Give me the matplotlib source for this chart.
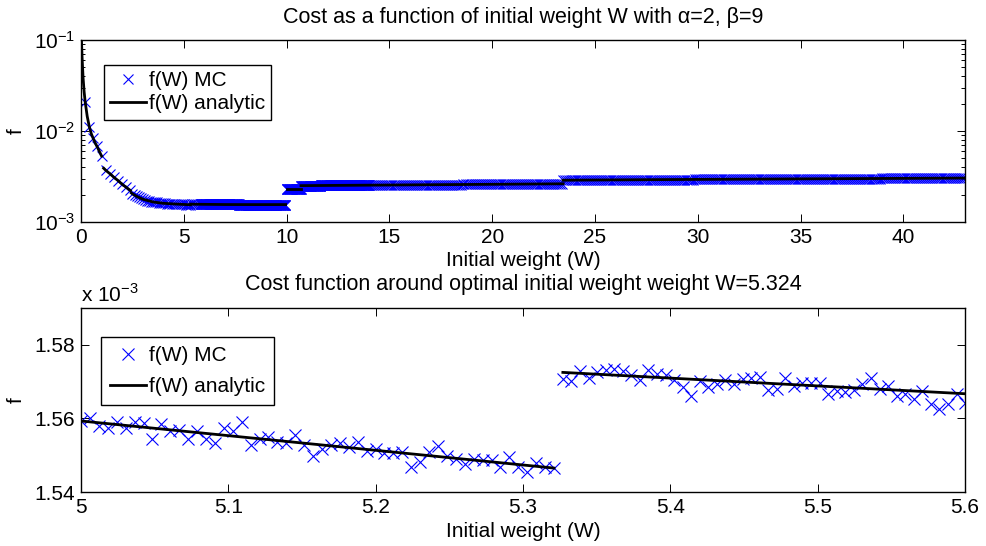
import numpy as np
import matplotlib
matplotlib.use('Agg')
import matplotlib.pyplot as plt
from matplotlib.ticker import LogLocator

plt.rcParams['font.family'] = ['Liberation Sans', 'DejaVu Sans']
plt.rcParams['mathtext.fontset'] = 'custom'
plt.rcParams['mathtext.rm'] = 'Liberation Sans'

# ---- top panel, f(W) over the full range ----
# analytic curve, one list per continuous piece
ana_w = [
    [0.01, 0.02, 0.05, 0.1, 0.15, 0.2, 0.3, 0.4, 0.5, 0.6, 0.7, 0.8, 0.9, 1.0],
    [1.1, 1.2, 1.4, 1.6, 1.8, 2.0, 2.2, 2.4],
    [2.45, 2.5, 2.75, 3.0, 3.5, 4.0, 4.5, 5.0, 5.321],
    [5.327, 5.6, 7.0, 8.5, 9.95],
    [10.0, 10.7],
    [10.7, 14.0, 23.45],
    [23.45, 30.0, 43.0],
]
ana_f = [
    [0.15, 0.10, 0.065, 0.038, 0.027, 0.021, 0.0145, 0.0112, 0.0093, 0.0082, 0.0073, 0.0066, 0.0059, 0.0053],
    [0.0039, 0.0037, 0.0034, 0.0031, 0.00285, 0.0026, 0.0024, 0.00222],
    [0.00208, 0.00204, 0.00189, 0.00178, 0.00166, 0.001605, 0.00158, 0.001559, 0.0015465],
    [0.0015725, 0.0015667, 0.001556, 0.001553, 0.001554],
    [0.00231, 0.00231],
    [0.00251, 0.00254, 0.00263],
    [0.00288, 0.00294, 0.00304],
]

# Monte Carlo points where the markers can be told apart
mc_w = [0.2, 0.4, 0.6, 0.8, 1.0,
        1.2, 1.4, 1.6, 1.8, 2.0, 2.2, 2.4,
        2.5, 2.6, 2.7, 2.8, 2.9, 3.0, 3.1, 3.2, 3.3, 3.4, 3.5, 3.6, 3.7, 3.8,
        3.9, 4.0, 4.1, 4.2, 4.3, 4.4, 4.5, 4.6, 4.7, 4.8, 4.9, 5.0, 5.1, 5.2,
        5.3, 5.4, 5.5, 5.6, 5.7]
mc_f = [0.021, 0.0112, 0.0083, 0.0068, 0.0053,
        0.0037, 0.0034, 0.0031, 0.00285, 0.0026, 0.0024, 0.00225,
        0.00205, 0.00197, 0.00192, 0.00187, 0.00182, 0.00178, 0.00175, 0.00172,
        0.00170, 0.00168, 0.00166, 0.00165, 0.00164, 0.00163, 0.00162, 0.00161,
        0.00160, 0.001595, 0.00159, 0.001585, 0.00158, 0.001576, 0.001572,
        0.001567, 0.001563, 0.001559, 0.001555, 0.001551, 0.001547, 0.00157,
        0.001568, 0.001566, 0.001565]

# dense MC bands (markers merge into a band): start, end, W step, f at ends
band_w0 = [5.8, 10.0, 10.7, 14.0, 23.45]
band_w1 = [9.95, 10.7, 14.0, 23.45, 43.0]
band_dw = [0.02, 0.02, 0.02, 0.1, 0.1]
band_f0 = [0.001560, 0.00231, 0.00251, 0.00254, 0.00288]
band_f1 = [0.001554, 0.00231, 0.00254, 0.00263, 0.00304]

# ---- bottom panel, zoom around the optimum (values in units of 1e-3) ----
zl_f = [1.5593, 1.5600, 1.5579, 1.5575, 1.5589, 1.5573, 1.5591, 1.5588, 1.5545,
        1.5585, 1.5565, 1.5568, 1.5545, 1.5566, 1.5544, 1.5534, 1.5573, 1.5565,
        1.5589, 1.5527, 1.5543, 1.5549, 1.5536, 1.5534, 1.5555, 1.5527, 1.5498,
        1.5516, 1.5527, 1.5534, 1.5523, 1.5535, 1.5511, 1.5518, 1.5505, 1.5507,
        1.5509, 1.5467, 1.5482, 1.5509, 1.5525, 1.5498, 1.5491, 1.5477, 1.5489,
        1.5488, 1.5488, 1.5467, 1.5495, 1.5468, 1.5455, 1.5479, 1.5468, 1.5466]
zr_f = [1.5708, 1.5701, 1.5729, 1.5710, 1.5727, 1.5731, 1.5734, 1.5729, 1.5719,
        1.5704, 1.5731, 1.5722, 1.5719, 1.5704, 1.5685, 1.5660, 1.5702, 1.5685,
        1.5694, 1.5704, 1.5693, 1.5706, 1.5710, 1.5713, 1.5676, 1.5681, 1.5711,
        1.5687, 1.5696, 1.5697, 1.5696, 1.5665, 1.5674, 1.5672, 1.5676, 1.5693,
        1.5710, 1.5681, 1.5687, 1.5662, 1.5665, 1.5653, 1.5674, 1.5639, 1.5626,
        1.5638, 1.5667, 1.5642]
zl_w = np.linspace(5.0, 5.321, len(zl_f))
zr_w = np.linspace(5.327, 5.6, len(zr_f))
zana_w = [[5.0, 5.321], [5.327, 5.6]]
zana_f = [[1.5593, 1.5465], [1.5725, 1.5667]]

blue = '#0000ff'
mew = 0.8
fs = 15


def style_axes(ax):
    ax.tick_params(which='both', direction='in', top=True, right=True,
                   labelsize=fs, width=0.7)
    ax.tick_params(which='major', length=6)
    ax.tick_params(which='minor', length=3)
    ax.tick_params(axis='x', pad=4)
    ax.tick_params(axis='y', pad=4)
    for s in ax.spines.values():
        s.set_linewidth(1.0)
    ax.yaxis.set_label_coords(-0.063, 0.5)


fig = plt.figure(figsize=(9.86, 5.46), dpi=100)
ax1 = fig.add_axes([0.0822, 0.5934, 0.8966, 0.3333])
ax2 = fig.add_axes([0.0822, 0.0989, 0.8966, 0.337])

# top
ax1.plot(mc_w, mc_f, 'x', color=blue, ms=7, mew=mew, label='f(W) MC')
for w0, w1, dw, f0, f1 in zip(band_w0, band_w1, band_dw, band_f0, band_f1):
    w = np.arange(w0, w1 + 1e-9, dw)
    ax1.plot(w, np.linspace(f0, f1, len(w)), 'x', color=blue, ms=7, mew=mew)
for i, (w, f) in enumerate(zip(ana_w, ana_f)):
    ax1.plot(w, f, '-', color='black', lw=2,
             label='f(W) analytic' if i == 0 else None)
ax1.set_yscale('log')
ax1.set_xlim(0, 43)
ax1.set_ylim(1e-3, 1e-1)
ax1.set_xticks(np.arange(0, 41, 5))
ax1.yaxis.set_minor_locator(LogLocator(base=10, subs=np.arange(2, 10)))
style_axes(ax1)
ax1.set_title('Cost as a function of initial weight W with \u03b1=2, \u03b2=9',
              fontsize=15.5, pad=12)
ax1.set_xlabel('Initial weight (W)', fontsize=fs, labelpad=3)
ax1.set_ylabel('f', fontsize=fs)
ax1.legend(loc='upper left', bbox_to_anchor=(0.026, 0.863), fontsize=fs,
           frameon=True, fancybox=False, edgecolor='black', framealpha=1,
           handlelength=1.7, handletextpad=0.15, borderpad=0.3,
           labelspacing=0.2, borderaxespad=0)

# bottom
ax2.plot(zl_w, zl_f, 'x', color=blue, ms=8.5, mew=mew, label='f(W) MC')
ax2.plot(zr_w, zr_f, 'x', color=blue, ms=8.5, mew=mew)
for i, (w, f) in enumerate(zip(zana_w, zana_f)):
    ax2.plot(w, f, '-', color='black', lw=2,
             label='f(W) analytic' if i == 0 else None)
ax2.set_xlim(5, 5.6)
ax2.set_ylim(1.54, 1.59)
ax2.set_xticks([5, 5.1, 5.2, 5.3, 5.4, 5.5, 5.6])
ax2.set_xticklabels(['5', '5.1', '5.2', '5.3', '5.4', '5.5', '5.6'])
ax2.set_yticks([1.54, 1.56, 1.58])
ax2.set_yticklabels(['1.54', '1.56', '1.58'])
style_axes(ax2)
ax2.text(0.0, 1.01, 'x 10$^{-3}$', transform=ax2.transAxes, fontsize=fs,
         ha='left', va='bottom')
ax2.set_title('Cost function around optimal initial weight weight W=5.324',
              fontsize=15.5, pad=13)
ax2.set_xlabel('Initial weight (W)', fontsize=fs, labelpad=4)
ax2.set_ylabel('f', fontsize=fs)
ax2.legend(loc='upper left', bbox_to_anchor=(0.0226, 0.842), fontsize=fs,
           frameon=True, fancybox=False, edgecolor='black', framealpha=1,
           handlelength=1.7, handletextpad=0.15, borderpad=0.45,
           labelspacing=0.55, borderaxespad=0)

fig.savefig('out.png', dpi=100)
